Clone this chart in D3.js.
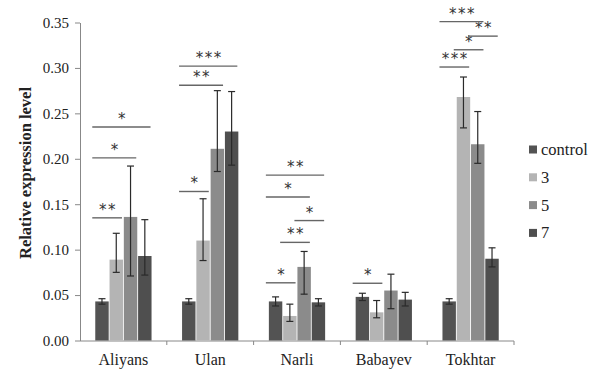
<!DOCTYPE html>
<html>
<head>
<meta charset="utf-8">
<script src="https://cdn.jsdelivr.net/npm/d3@7"></script>
<style>
  body { margin: 0; background: #fff; }
  text { font-family: "Liberation Serif", "Times New Roman", serif; fill: #222; }
</style>
</head>
<body>
<svg id="chart" width="591" height="369"></svg>
<script>
// ---------------------------------------------------------------- //
// Data

var categories = ['Aliyans', 'Ulan', 'Narli', 'Babayev', 'Tokhtar'];
var series = ['control', '3', '5', '7'];

var val_control = [0.043, 0.043, 0.043, 0.048, 0.043];
var val_3       = [0.089, 0.110, 0.027, 0.031, 0.268];
var val_5       = [0.136, 0.211, 0.081, 0.055, 0.216];
var val_7       = [0.093, 0.230, 0.042, 0.045, 0.090];

var errUp_control = [0.003, 0.003, 0.005, 0.004, 0.003];
var errUp_3       = [0.029, 0.046, 0.013, 0.013, 0.022];
var errUp_5       = [0.056, 0.064, 0.017, 0.018, 0.036];
var errUp_7       = [0.040, 0.044, 0.004, 0.008, 0.012];

var errDown_control = [0.003, 0.003, 0.005, 0.004, 0.003];
var errDown_3       = [0.014, 0.022, 0.006, 0.006, 0.034];
var errDown_5       = [0.065, 0.025, 0.030, 0.020, 0.021];
var errDown_7       = [0.021, 0.037, 0.004, 0.007, 0.009];

var yTicks = [0, 0.05, 0.10, 0.15, 0.20, 0.25, 0.30, 0.35];

// significance brackets: category, first bar, last bar, level, stars
var sig_cat   = ['Aliyans','Aliyans','Aliyans','Ulan','Ulan','Ulan','Narli','Narli','Narli','Narli','Narli','Babayev','Tokhtar','Tokhtar','Tokhtar','Tokhtar'];
var sig_from  = [0, 0, 0, 0, 0, 0, 0, 1, 2, 0, 0, 0, 0, 1, 2, 0];
var sig_to    = [1, 2, 3, 1, 2, 3, 1, 2, 3, 2, 3, 1, 1, 2, 3, 2];
var sig_level = [0.135, 0.201, 0.235, 0.164, 0.281, 0.302, 0.0635, 0.108, 0.132, 0.158, 0.182, 0.063, 0.301, 0.320, 0.335, 0.351];
var sig_label = ['**','*','*','*','**','***','*','**','*','*','**','*','***','*','**','***'];

var colors = ['#535353', '#b4b4b4', '#8b8b8b', '#4f4f4f'];

// ---------------------------------------------------------------- //
// Setup

var svg = d3.select('#chart');
var mLeft = 80, mRight = 514, mTop = 22.5, mBottom = 340.5;

var values = [val_control, val_3, val_5, val_7];
var errUp = [errUp_control, errUp_3, errUp_5, errUp_7];
var errDown = [errDown_control, errDown_3, errDown_5, errDown_7];

var x0 = d3.scaleBand().domain(categories).range([mLeft, mRight]).paddingInner(0.332).paddingOuter(0.166);
var x1 = d3.scaleBand().domain(d3.range(series.length)).range([0, x0.bandwidth()]).padding(0.06);
var y = d3.scaleLinear().domain([0, 0.35]).range([mBottom, mTop]);

var rows = [];
categories.forEach((c, ci) => {
  series.forEach((s, si) => {
    rows.push({ cat: c, si: si, v: values[si][ci], up: errUp[si][ci], down: errDown[si][ci] });
  });
});

// ---------------------------------------------------------------- //
// Axes

var yAxis = svg.append('g').attr('transform', 'translate(' + mLeft + ',0)')
  .call(d3.axisLeft(y).tickValues(yTicks).tickFormat(d3.format('.2f')).tickSize(5).tickPadding(6).tickSizeOuter(0));
yAxis.attr('font-family', null);
yAxis.select('.domain').attr('stroke', '#888');
yAxis.selectAll('.tick line').attr('stroke', '#888');
yAxis.selectAll('.tick text').style('font-size', '15px').style('font-family', '"Liberation Serif", serif');

svg.append('text')
  .attr('transform', 'translate(31,173) rotate(-90)')
  .attr('text-anchor', 'middle')
  .style('font-size', '16.5px').style('font-weight', 'bold')
  .text('Relative expression level');

svg.append('line')
  .attr('x1', mLeft).attr('x2', mRight).attr('y1', mBottom + 0.5).attr('y2', mBottom + 0.5)
  .attr('stroke', '#888');

svg.selectAll('.xtick').data(categories).enter().append('line')
  .attr('x1', (d) => x0(d) + x0.bandwidth() + x0.step() * 0.332 / 2)
  .attr('x2', (d) => x0(d) + x0.bandwidth() + x0.step() * 0.332 / 2)
  .attr('y1', mBottom + 0.5).attr('y2', mBottom + 4.5)
  .attr('stroke', '#888');

svg.selectAll('.xlabel').data(categories).enter().append('text')
  .attr('x', (d) => x0(d) + x0.bandwidth() / 2)
  .attr('y', 365)
  .attr('text-anchor', 'middle')
  .style('font-size', '16px')
  .text((d) => d);

// ---------------------------------------------------------------- //
// Bars and error bars

svg.selectAll('.bar').data(rows).enter().append('rect')
  .attr('x', (d) => x0(d.cat) + x1(d.si))
  .attr('y', (d) => y(d.v))
  .attr('width', x1.bandwidth())
  .attr('height', (d) => y(0) - y(d.v))
  .attr('fill', (d) => colors[d.si]);

var cap = 3.5;
var eb = svg.selectAll('.err').data(rows).enter().append('g')
  .attr('transform', (d) => 'translate(' + (x0(d.cat) + x1(d.si) + x1.bandwidth() / 2) + ',0)')
  .attr('stroke', '#2a2a2a').attr('stroke-width', 1.2);
eb.append('line').attr('y1', (d) => y(d.v + d.up)).attr('y2', (d) => y(d.v - d.down));
eb.append('line').attr('x1', -cap).attr('x2', cap).attr('y1', (d) => y(d.v + d.up)).attr('y2', (d) => y(d.v + d.up));
eb.append('line').attr('x1', -cap).attr('x2', cap).attr('y1', (d) => y(d.v - d.down)).attr('y2', (d) => y(d.v - d.down));

// ---------------------------------------------------------------- //
// Significance

var sig = sig_cat.map((c, i) => ({ cat: c, from: sig_from[i], to: sig_to[i], level: sig_level[i], label: sig_label[i] }));

var sg = svg.selectAll('.sig').data(sig).enter().append('g');
sg.append('line')
  .attr('x1', (d) => x0(d.cat) + x1(d.from) - 3)
  .attr('x2', (d) => x0(d.cat) + x1(d.to) + x1.bandwidth() - 1)
  .attr('y1', (d) => y(d.level)).attr('y2', (d) => y(d.level))
  .attr('stroke', '#666').attr('stroke-width', 1.4);
sg.append('text')
  .attr('x', (d) => x0(d.cat) + (x1(d.from) + x1(d.to) + x1.bandwidth()) / 2 - 1)
  .attr('y', (d) => y(d.level) - 3)
  .attr('text-anchor', 'middle')
  .style('font-family', '"DejaVu Sans", sans-serif')
  .style('font-size', '15px')
  .style('letter-spacing', '1.5px')
  .style('fill', '#333')
  .text((d) => d.label);

// ---------------------------------------------------------------- //
// Legend

var lg = svg.selectAll('.legend').data(series).enter().append('g')
  .attr('transform', (d, i) => 'translate(529,' + (149.5 + i * 27.8) + ')');
lg.append('rect').attr('x', 0).attr('y', -4).attr('width', 8).attr('height', 8)
  .attr('fill', (d, i) => colors[i]);
lg.append('text').attr('x', 12).attr('y', 5.5)
  .style('font-size', '16.5px')
  .text((d) => d);
</script>
</body>
</html>
